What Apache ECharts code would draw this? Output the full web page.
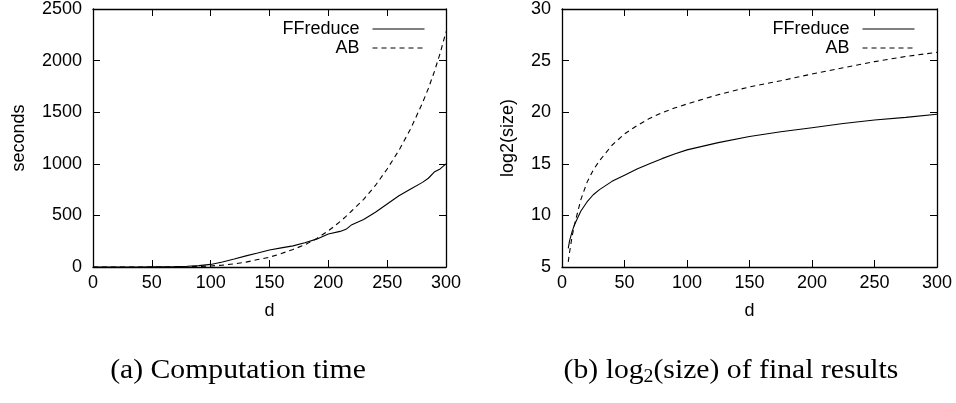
<!DOCTYPE html>
<html>
<head>
<meta charset="utf-8">
<script src="https://cdn.jsdelivr.net/npm/echarts@6/dist/echarts.min.js"></script>
<style>
html,body{margin:0;padding:0;background:#fff;}
#chart{width:956px;height:403px;}
</style>
</head>
<body>
<div id="chart"></div>
<script>
// ---- Data: (a) computation time ----
var dTime  = [0, 10, 20, 30, 40, 50, 60, 70, 80, 90, 100, 110, 120, 130, 140, 150, 160, 170, 180, 190, 200, 210, 215, 220, 230, 240, 250, 260, 270, 280, 285, 290, 295, 300];
var ffTime = [0, 0, 0, 0, 0, 1, 2, 4, 7, 13, 25, 49, 78, 108, 135, 165, 185, 205, 235, 270, 320, 345, 365, 410, 460, 530, 610, 690, 755, 820, 860, 920, 950, 1000];
var abTime = [0, 0, 0, 0, 0, 0, 0, 1, 2, 5, 10, 18, 30, 47, 72, 95, 130, 170, 215, 275, 350, 440, 490, 545, 655, 790, 950, 1130, 1340, 1590, 1730, 1890, 2070, 2280];

// ---- Data: (b) log2(size) of final results ----
var dSize  = [5, 6, 8, 10, 15, 20, 25, 30, 40, 50, 60, 70, 80, 90, 100, 125, 150, 175, 200, 225, 250, 275, 300];
var ffSize = [6.8, 7.5, 8.4, 9.1, 10.4, 11.3, 12.0, 12.5, 13.3, 13.9, 14.5, 15.0, 15.5, 15.95, 16.35, 17.05, 17.65, 18.1, 18.5, 18.9, 19.25, 19.5, 19.8];
var abSize = [5.5, 6.4, 7.9, 9.1, 11.5, 13.2, 14.4, 15.3, 16.8, 17.9, 18.7, 19.4, 19.95, 20.4, 20.8, 21.7, 22.45, 23.05, 23.7, 24.3, 24.9, 25.4, 25.8];

var xTicks = {min: 0, max: 300, interval: 50};
var yTimeTicks = {min: 0, max: 2500, interval: 500};
var ySizeTicks = {min: 5, max: 30, interval: 5};

var seriesNames = ['FFreduce', 'AB'];
var captionA = '(a) Computation time';
var xName = 'd', yNameA = 'seconds', yNameB = 'log2(size)';

function zip(xs, ys) { return xs.map(function (x, i) { return [x, ys[i]]; }); }

var SANS = '"Liberation Sans", Arial, sans-serif';
var SERIF = '"Liberation Serif", "DejaVu Serif", serif';
var LW = 1.3;
var FS = 18;

function mkX(gi, pos, ticks) {
  var primary = pos === 'bottom';
  return {
    type: 'value', gridIndex: gi, position: pos,
    min: ticks.min, max: ticks.max, interval: ticks.interval,
    name: primary ? xName : '', nameLocation: 'middle', nameGap: 35,
    nameTextStyle: {color: '#000', fontSize: FS, fontFamily: SANS},
    axisLine: {show: true, onZero: false, lineStyle: {color: '#000', width: LW}},
    axisTick: {show: true, inside: true, length: 7, lineStyle: {color: '#000', width: 1}},
    axisLabel: {show: primary, color: '#000', fontSize: FS, fontFamily: SANS, margin: 7,
      formatter: function (v) { return String(v); }},
    splitLine: {show: false}
  };
}
function mkY(gi, pos, ticks, name, gap) {
  var primary = pos === 'left';
  return {
    type: 'value', gridIndex: gi, position: pos,
    min: ticks.min, max: ticks.max, interval: ticks.interval,
    name: primary ? name : '', nameLocation: 'middle', nameGap: gap,
    nameTextStyle: {color: '#000', fontSize: FS, fontFamily: SANS},
    axisLine: {show: true, onZero: false, lineStyle: {color: '#000', width: LW}},
    axisTick: {show: true, inside: true, length: 7, lineStyle: {color: '#000', width: 1}},
    axisLabel: {show: primary, color: '#000', fontSize: FS, fontFamily: SANS, margin: 11,
      formatter: function (v) { return String(v); }},
    splitLine: {show: false}
  };
}
function mkSeries(name, data, xi, yi, dashed) {
  return {
    name: name, type: 'line', xAxisIndex: xi, yAxisIndex: yi,
    data: data, symbol: 'none', showSymbol: false, animation: false,
    lineStyle: {color: '#000', width: 1.1, type: dashed ? [5, 4] : 'solid'},
    itemStyle: {color: '#000'}
  };
}
function mkLegend(right) {
  return {
    data: seriesNames, orient: 'vertical', right: right, top: 15, align: 'right',
    itemWidth: 52, itemHeight: 14, itemGap: 1,
    itemStyle: {color: 'rgba(0,0,0,0)', borderWidth: 0},
    lineStyle: {width: 1},
    textStyle: {color: '#000', fontSize: FS, fontFamily: SANS, padding: [0, 8, 0, 0]},
    inactiveColor: '#000', selectedMode: false
  };
}

var chart = echarts.init(document.getElementById('chart'), null, {renderer: 'canvas'});
chart.setOption({
  animation: false,
  backgroundColor: '#fff',
  grid: [
    {left: 93, top: 9, width: 353, height: 258},
    {left: 562, top: 9, width: 375, height: 258}
  ],
  xAxis: [mkX(0, 'bottom', xTicks), mkX(0, 'top', xTicks), mkX(1, 'bottom', xTicks), mkX(1, 'top', xTicks)],
  yAxis: [mkY(0, 'left', yTimeTicks, yNameA, 65), mkY(0, 'right', yTimeTicks, '', 0),
          mkY(1, 'left', ySizeTicks, yNameB, 45), mkY(1, 'right', ySizeTicks, '', 0)],
  legend: [mkLegend(526), mkLegend(36)],
  series: [
    mkSeries(seriesNames[0], zip(dTime, ffTime), 0, 0, false),
    mkSeries(seriesNames[1], zip(dTime, abTime), 0, 0, true),
    mkSeries(seriesNames[0], zip(dSize, ffSize), 2, 2, false),
    mkSeries(seriesNames[1], zip(dSize, abSize), 2, 2, true)
  ],
  graphic: [
    {type: 'text', x: 238, y: 371, scaleX: 1.1, style: {text: captionA, font: '27px ' + SERIF, fill: '#000', align: 'center', verticalAlign: 'middle'}},
    {type: 'text', x: 731, y: 371, scaleX: 1.1, style: {
      text: '{a|(b) log}{s|2}{a|(size) of final results}',
      align: 'center', verticalAlign: 'middle', fill: '#000',
      rich: {
        a: {font: '27px ' + SERIF, fill: '#000', lineHeight: 30},
        s: {font: '18px ' + SERIF, fill: '#000', lineHeight: 30, padding: [12, 0, 0, 0]}
      }
    }}
  ]
});
</script>
</body>
</html>
